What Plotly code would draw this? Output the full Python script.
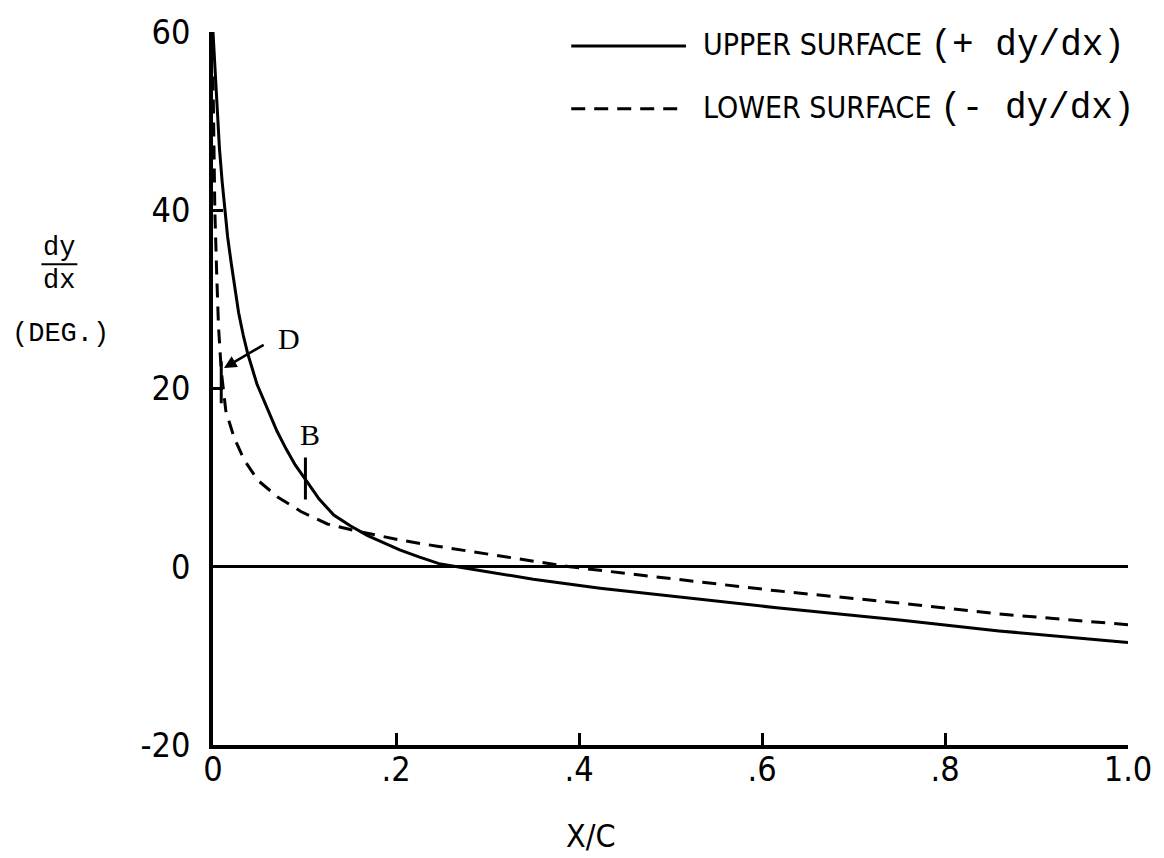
import plotly.graph_objects as go

# ---- data ----
upper_x = [0.0, 0.002, 0.004, 0.007, 0.010, 0.013, 0.016, 0.020, 0.024, 0.028, 0.033, 0.038,
           0.048, 0.060, 0.070, 0.080, 0.090, 0.101, 0.116, 0.132, 0.150, 0.169, 0.186, 0.204,
           0.225, 0.247, 0.270, 0.292, 0.35, 0.423, 0.52, 0.616, 0.753, 0.859, 1.0]
upper_y = [60.0, 56.0, 52.0, 47.0, 43.2, 40.2, 37.0, 34.0, 31.0, 28.5, 26.0, 23.9,
           20.5, 17.5, 15.2, 13.2, 11.4, 9.8, 7.6, 5.8, 4.6, 3.5, 2.7, 1.9,
           1.1, 0.35, -0.05, -0.4, -1.4, -2.4, -3.5, -4.6, -6.0, -7.2, -8.5]

lower_x = [0.0, 0.002, 0.004, 0.006, 0.009, 0.014, 0.023, 0.034, 0.049, 0.071, 0.096,
           0.125, 0.153, 0.204, 0.245, 0.313, 0.39, 0.459, 0.616, 0.753, 0.859, 1.0]
lower_y = [55.0, 40.0, 33.0, 27.0, 22.0, 17.5, 14.5, 12.0, 9.7, 7.8, 6.2,
           4.8, 4.1, 3.0, 2.3, 1.2, 0.0, -0.84, -2.7, -4.1, -5.3, -6.5]

# point markers B (upper surface) and D (lower surface)
mark_x = [0.101, 0.009]
mark_y = [9.9, 20.7]
label_names = ["B", "D"]
label_x = [0.106, 0.083]
label_y = [14.8, 25.6]
arrow_tail = (0.057, 25.0)
arrow_head = (0.012, 22.3)

x_ticks = [0, 0.2, 0.4, 0.6, 0.8, 1.0]
x_tick_text = ["0", ".2", ".4", ".6", ".8", "1.0"]
y_ticks = [-20, 0, 20, 40, 60]
y_tick_text = ["-20", "0", "20", "40", "60"]

legend_names = ["UPPER SURFACE", "LOWER SURFACE"]
legend_suffix = ["(+ dy/dx)", "(- dy/dx)"]

SANS = "DejaVu Sans Condensed, Liberation Sans, Arial, sans-serif"
MONO = "Liberation Mono, monospace"
SERIF = "Liberation Serif, serif"

fig = go.Figure()
fig.add_trace(go.Scatter(x=upper_x, y=upper_y, mode="lines", line=dict(color="black", width=3),
                         showlegend=False))
fig.add_trace(go.Scatter(x=lower_x, y=lower_y, mode="lines",
                         line=dict(color="black", width=3, dash="14px,9px"),
                         showlegend=False))
fig.add_trace(go.Scatter(x=mark_x, y=mark_y, mode="markers", showlegend=False,
                         marker=dict(symbol="line-ns", size=30, line=dict(color="black", width=3))))

# labels B and D
for nm, lx, ly in zip(label_names, label_x, label_y):
    fig.add_annotation(x=lx, y=ly, text=nm, showarrow=False, xanchor="center", yanchor="middle",
                       font=dict(family=SERIF, size=30, color="black"))
fig.add_annotation(x=arrow_head[0], y=arrow_head[1], ax=arrow_tail[0], ay=arrow_tail[1],
                   axref="x", ayref="y", text="", showarrow=True, arrowhead=2,
                   arrowsize=1, arrowwidth=2.5, arrowcolor="black")

W, H = 1164, 858
L, R, T, B = 213, 34, 30, 113
pw, ph = W - L - R, H - T - B
def px(xp):
    return (xp - L) / pw
def py(yp):
    return (T + ph - yp) / ph

# manual legend
leg_rows = [44, 107]
for i, (nm, suf, yy) in enumerate(zip(legend_names, legend_suffix, leg_rows)):
    fig.add_shape(type="line", xref="paper", yref="paper",
                  x0=px(572), x1=px(687), y0=py(yy), y1=py(yy),
                  line=dict(color="black", width=3, dash="solid" if i == 0 else "14px,9px"))
    fig.add_annotation(xref="paper", yref="paper", x=px(702), y=py(yy), xanchor="left",
                       yanchor="middle", showarrow=False,
                       text=nm + " <span style='font-family:Liberation Mono;font-size:36px'>" + suf + "</span>",
                       font=dict(family=SANS, size=30, color="black"))

# y-axis title (fraction)
fig.add_annotation(xref="paper", yref="paper", x=px(59), y=py(247), text="dy", showarrow=False,
                   xanchor="center", yanchor="middle", font=dict(family=MONO, size=27, color="black"))
fig.add_shape(type="line", xref="paper", yref="paper", x0=px(41), x1=px(77),
              y0=py(263), y1=py(263), line=dict(color="black", width=2))
fig.add_annotation(xref="paper", yref="paper", x=px(59), y=py(280), text="dx", showarrow=False,
                   xanchor="center", yanchor="middle", font=dict(family=MONO, size=27, color="black"))
fig.add_annotation(xref="paper", yref="paper", x=px(60), y=py(333), text="(DEG.)", showarrow=False,
                   xanchor="center", yanchor="middle", font=dict(family=MONO, size=27, color="black"))
# x-axis title
fig.add_annotation(xref="paper", yref="paper", x=px(592), y=py(836), text="X/C", showarrow=False,
                   xanchor="center", yanchor="middle", font=dict(family=SANS, size=32, color="black"))

fig.update_xaxes(range=[0, 1.0], showgrid=False, zeroline=False, showline=True, linecolor="black",
                 linewidth=3.5, ticks="inside", ticklen=12, tickwidth=2.5, tickcolor="black",
                 tickvals=x_ticks, ticktext=x_tick_text, ticklabelstandoff=-9,
                 tickfont=dict(family=SANS, size=34, color="black"))
fig.update_yaxes(range=[-20, 60], showgrid=False, zeroline=True, zerolinecolor="black",
                 zerolinewidth=2.5, showline=True, linecolor="black", linewidth=3.5,
                 ticks="inside", ticklen=10, tickwidth=2.5, tickcolor="black",
                 tickvals=y_ticks, ticktext=y_tick_text, ticklabelstandoff=12,
                 tickfont=dict(family=SANS, size=34, color="black"))
fig.update_layout(width=W, height=H, margin=dict(l=L, r=R, t=T, b=B),
                  plot_bgcolor="white", paper_bgcolor="white", showlegend=False)
fig.write_html("out.html", config={"displayModeBar": False},
               post_script="document.body.style.margin='0';document.body.style.overflow='hidden';")
